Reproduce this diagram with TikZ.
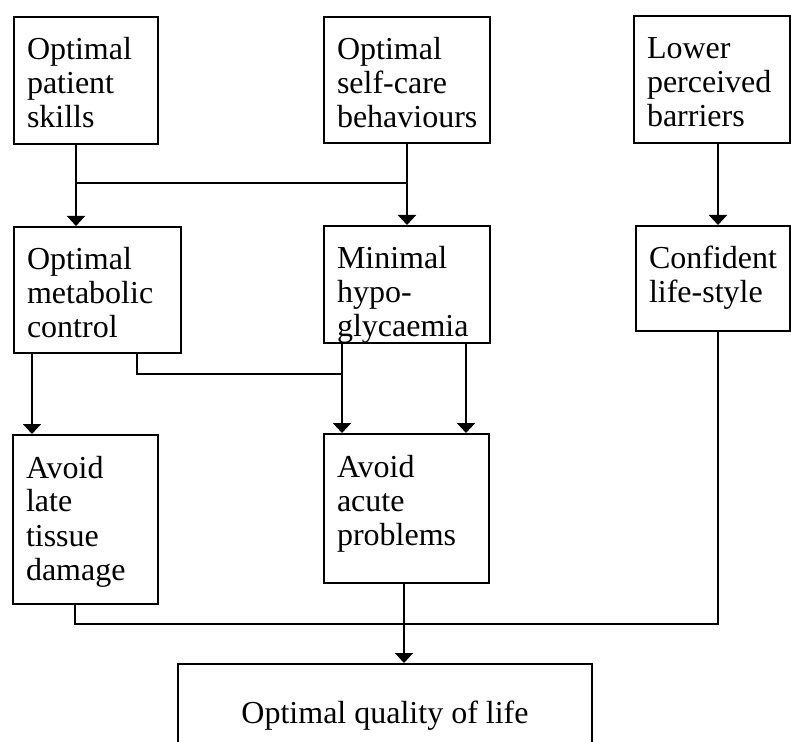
\documentclass[tikz,border=0pt]{standalone}
\usepackage{fontspec}
\setmainfont{Liberation Serif}
\usepackage{tikz}
\usetikzlibrary{arrows.meta}
\hyphenpenalty=10000
\tikzstyle{block} = [rectangle, 
anchor=north west, 
draw=black, 
line width=1pt, 
inner xsep=6.5pt, 
inner ysep=0pt, 
text height=21.5pt, 
align=left, 
font=\fontsize{16}{17}\selectfont]
\tikzstyle{arrow} = [line width=1pt,-{Triangle[width=9pt,length=5pt]}]
\tikzstyle{link} = [line width=1pt]

\begin{document}
\begin{tikzpicture}[x=0.5pt, y=-0.5pt]
        \useasboundingbox (0,0) rectangle (791,742);
        \clip (0,0) rectangle (791,742);

        \node (skills) [block, text width=59pt, text depth=42pt] at (13,16) {Optimal\\patient\\skills};
        \node (selfcare) [block, text width=70pt, text depth=41.5pt] at (323,16) {Optimal\\self-care\\behaviours};
        \node (barriers) [block, text width=65pt, text depth=42pt] at (633,15) {Lower\\perceived\\barriers};

        \node (metabolic) [block, text width=70.5pt, text depth=41.5pt] at (13,226) {Optimal\\metabolic\\control};
        \node (hypo) [block, text width=70pt, text depth=37pt] at (323,225) {Minimal\\hypo-\\glycaemia};
        \node (lifestyle) [block, text width=64pt, text depth=31pt] at (635,225) {Confident\\life-style};

        \node (late) [block, text width=59.5pt, text depth=63pt] at (12,434) {Avoid\\late\\tissue\\damage};
        \node (acute) [block, text width=69.5pt, text depth=53pt] at (323,433) {Avoid\\acute\\problems};
        \node (quality) [block, anchor=north, minimum width=207pt, text height=29.5pt, text depth=21.5pt] at (385,663) {Optimal quality of life};

        \coordinate (jl) at (76,183);
        \coordinate (bx) at (718,0);
        \coordinate (dl) at (32,0);
        \coordinate (mc) at (137,374);
        \coordinate (ac) at (342,374);
        \coordinate (hc) at (466,0);
        \coordinate (ql) at (75,624);
        \coordinate (qc) at (404,0);

        \draw [arrow] (skills.south -| jl) -- (metabolic.north -| jl);
        \draw [link] (jl) -- (selfcare.south |- jl);
        \draw [arrow] (selfcare) -- (hypo);
        \draw [arrow] (barriers.south -| bx) -- (lifestyle.north -| bx);

        \draw [arrow] (metabolic.south -| dl) -- (late.north -| dl);
        \draw [link] (metabolic.south -| mc) -- (mc) -- (ac);
        \draw [arrow] (hypo.south -| ac) -- (acute.north -| ac);
        \draw [arrow] (hypo.south -| hc) -- (acute.north -| hc);

        \draw [link] (late.south -| ql) -- (ql) -| (lifestyle.south -| bx);
        \draw [arrow] (acute.south -| qc) -- (quality.north -| qc);

    \end{tikzpicture}
\end{document}
